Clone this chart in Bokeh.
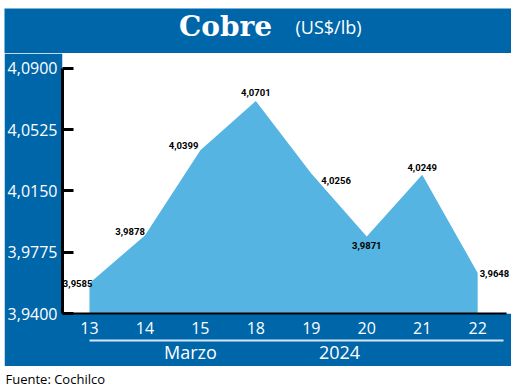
from bokeh.plotting import figure
from bokeh.models import ColumnDataSource, FixedTicker, Range1d, LinearAxis
from bokeh.layouts import column
from bokeh.embed import file_html
from bokeh.resources import INLINE
from bokeh.core.properties import value

# ---- data ----
days = ["13", "14", "15", "18", "19", "20", "21", "22"]
prices = [3.9585, 3.9878, 4.0399, 4.0701, 4.0256, 3.9871, 4.0249, 3.9648]
price_labels = ["3,9585", "3,9878", "4,0399", "4,0701", "4,0256", "3,9871", "4,0249", "3,9648"]
y_ticks = [3.94, 3.9775, 4.015, 4.0525, 4.09]
y_tick_labels = ["3,9400", "3,9775", "4,0150", "4,0525", "4,0900"]
month_label = "Marzo"
year_label = "2024"
title_main = "Cobre"
title_unit = "(US$/lb)"
source_note = "Fuente: Cochilco"

# ---- styles ----
BLUE = "#0066AA"
FILL = "#56B4E2"
W = 507
label_align = ["right", "right", "right", "center", "left", "center", "center", "left"]
label_dx = [3, 0, -2, 0, 10, 0, 0, 2]
label_dy = [0, -4, -5, -8, 7, 9, -7, 1]

idx = list(range(len(days)))
src = ColumnDataSource(dict(x=idx, y=prices, lab=price_labels,
                            al=label_align, dx=label_dx, dy=label_dy))

# ---- banner ----
b = figure(width=W, height=45, output_backend="svg", toolbar_location=None,
           x_range=Range1d(0, W), y_range=Range1d(0, 45), min_border=0,
           x_axis_location=None, y_axis_location=None, frame_align=False,
           border_fill_color=BLUE, background_fill_color=BLUE, outline_line_color=None)
b.grid.visible = False
b.text(x=[221], y=[27], text=[title_main], text_align="center", text_baseline="alphabetic",
       text_color="white", text_font=value("DejaVu Serif"), text_font_style="bold",
       text_font_size="28px")
b.text(x=[291], y=[27], text=[title_unit], text_align="left", text_baseline="alphabetic",
       text_color="white", text_font=value("Open Sans"), text_font_size="18px")

# ---- main chart ----
y0 = y_ticks[0]
p = figure(width=W, height=313, output_backend="svg", toolbar_location=None,
           x_range=Range1d(-0.486, 7.61), y_range=Range1d(y0, 4.0991),
           min_border_left=57, min_border_top=0, min_border_bottom=51, min_border_right=0,
           frame_align=False,
           border_fill_color=BLUE, background_fill_color="white", outline_line_color=None)
p.grid.visible = False

p.varea(x="x", y1=y0, y2="y", source=src, fill_color=FILL, fill_alpha=1)
p.text(x="x", y="y", text="lab", source=src, text_align="al", text_baseline="middle",
       x_offset="dx", y_offset="dy", text_font=value("Roboto"),
       text_font_style="bold", text_font_size="9.5px", text_color="black")

ya = p.yaxis[0]
ya.ticker = FixedTicker(ticks=y_ticks)
ya.major_label_overrides = {t: l for t, l in zip(y_ticks, y_tick_labels)}
ya.bounds = (y_ticks[0], y_ticks[-1])
ya.axis_line_color = "black"
ya.axis_line_width = 3
ya.major_tick_line_color = "black"
ya.major_tick_line_width = 3
ya.major_tick_in = 11
ya.major_tick_out = 0
ya.minor_tick_line_color = None
ya.major_label_text_color = "white"
ya.major_label_text_font = "Open Sans"
ya.major_label_text_font_size = "16px"
ya.major_label_standoff = 5

xa = p.xaxis[0]
xa.ticker = FixedTicker(ticks=idx)
xa.major_label_overrides = {i: d for i, d in zip(idx, days)}
xa.bounds = (-0.486, 7.52)
xa.axis_line_color = "black"
xa.axis_line_width = 2
xa.major_tick_line_color = None
xa.minor_tick_line_color = None
xa.major_tick_out = 0
xa.major_tick_in = 0
xa.major_label_text_color = "white"
xa.major_label_text_font = "Open Sans"
xa.major_label_text_font_size = "16px"
xa.major_label_standoff = 8
xa.axis_label = " "
xa.axis_label_text_font_size = "1px"
xa.axis_label_standoff = 0

xa2 = LinearAxis(ticker=FixedTicker(ticks=[1.82, 4.51]),
                 major_label_overrides={1.82: month_label, 4.51: year_label})
xa2.bounds = (0, 7.46)
xa2.axis_line_color = "#D4E6F3"
xa2.axis_line_width = 2
xa2.major_tick_line_color = None
xa2.minor_tick_line_color = None
xa2.major_tick_out = 0
xa2.major_tick_in = 0
xa2.major_label_text_color = "white"
xa2.major_label_text_font = "Open Sans"
xa2.major_label_text_font_size = "18px"
xa2.major_label_standoff = -1
p.add_layout(xa2, "below")

# ---- footer ----
f = figure(width=W, height=22, output_backend="svg", toolbar_location=None,
           x_range=Range1d(0, W), y_range=Range1d(0, 22), min_border=0,
           x_axis_location=None, y_axis_location=None, frame_align=False,
           border_fill_color="white", background_fill_color="white", outline_line_color=None)
f.grid.visible = False
f.text(x=[1], y=[10], text=[source_note], text_align="left", text_baseline="middle",
       text_color="black", text_font=value("Open Sans"), text_font_size="13px")

layout = column(b, p, f, spacing=0, margin=(8, 0, 0, 4))
open("out.html", "w").write(file_html(layout, INLINE))
